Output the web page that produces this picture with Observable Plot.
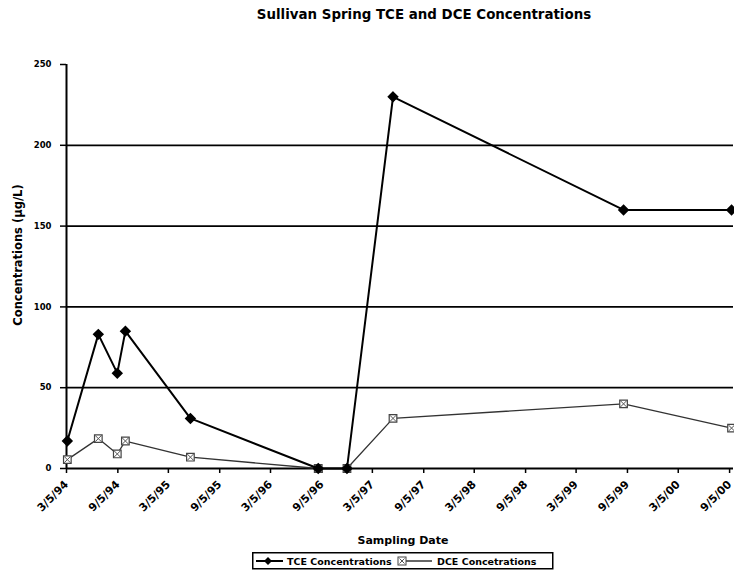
<!DOCTYPE html>
<html>
<head>
<meta charset="utf-8">
<script src="https://cdn.jsdelivr.net/npm/d3@7"></script>
<script src="https://cdn.jsdelivr.net/npm/@observablehq/plot@0.6"></script>
<style>
  html, body { margin: 0; padding: 0; background: white; }
  #wrap { position: relative; width: 734px; height: 578px; overflow: hidden; font-family: "DejaVu Sans", sans-serif; font-weight: bold; color: #000; }
  #title { position: absolute; top: 7px; left: 424px; transform: translateX(-50%); font-size: 13.4px; white-space: nowrap; }
  #ylabel { position: absolute; left: 18px; top: 255px; transform: translate(-50%, -50%) rotate(-90deg); font-size: 11.5px; white-space: nowrap; }
  #xlabel { position: absolute; left: 403px; top: 540px; transform: translate(-50%, -50%); font-size: 11px; white-space: nowrap; }
  #chart { position: absolute; top: 0; left: 0; }
  #legend { position: absolute; left: 252px; top: 552px; }
</style>
</head>
<body>
<div id="wrap">
  <div id="chart"></div>
  <div id="title">Sullivan Spring TCE and DCE Concentrations</div>
  <div id="ylabel">Concentrations (µg/L)</div>
  <div id="xlabel">Sampling Date</div>
  <div id="legend"></div>
</div>
<script>
// ---- data ----
const sampleDates = ["1994-03-08","1994-06-27","1994-09-03","1994-10-02","1995-05-23","1996-08-23","1996-12-04","1997-05-18","1999-08-22","2000-09-12"];
const tceValues = [17, 83, 59, 85, 31, 0, 0, 230, 160, 160];
const dceValues = [5.5, 18.5, 9, 17, 7, 0, 0, 31, 40, 25];
const tickDates = ["1994-03-05","1994-09-05","1995-03-05","1995-09-05","1996-03-05","1996-09-05","1997-03-05","1997-09-05","1998-03-05","1998-09-05","1999-03-05","1999-09-05","2000-03-05","2000-09-05"];
const tickLabels = ["3/5/94","9/5/94","3/5/95","9/5/95","3/5/96","9/5/96","3/5/97","9/5/97","3/5/98","9/5/98","3/5/99","9/5/99","3/5/00","9/5/00"];
const yTicks = [0, 50, 100, 150, 200, 250];
const gridValues = [50, 100, 150, 200];
const seriesNames = ["TCE Concentrations", "DCE Concetrations"];

// ---- tables ----
const tce = sampleDates.map((d, i) => ({date: new Date(d), value: tceValues[i]}));
const dce = sampleDates.map((d, i) => ({date: new Date(d), value: dceValues[i]}));
const ticks = tickDates.map(d => new Date(d));
const labelMap = new Map(ticks.map((d, i) => [+d, tickLabels[i]]));
const xStart = new Date("1994-03-05");
const xEnd = new Date("2000-09-19");

const chart = Plot.plot({
  width: 734,
  height: 578,
  marginLeft: 66,
  marginRight: 1,
  marginTop: 64,
  marginBottom: 110,
  style: {fontFamily: "DejaVu Sans", fontWeight: "bold", fontSize: "10px", background: "white", color: "black", overflow: "visible"},
  x: {type: "utc", domain: [xStart, xEnd]},
  y: {domain: [0, 250]},
  marks: [
    Plot.ruleY(gridValues, {stroke: "black", strokeWidth: 1.8}),
    Plot.axisY({ticks: yTicks, tickSize: 6, tickPadding: 9, fontSize: 8.5, label: null, stroke: "black", strokeWidth: 1.5}),
    Plot.axisX({ticks: ticks, tickFormat: d => labelMap.get(+d), tickRotate: -45, tickSize: 5, tickPadding: 9, fontSize: 11, label: null, stroke: "black", strokeWidth: 1.5}),
    Plot.ruleX([xStart], {stroke: "black", strokeWidth: 2}),
    Plot.ruleY([0], {stroke: "black", strokeWidth: 2.2}),
    Plot.line(dce, {x: "date", y: "value", stroke: "#333", strokeWidth: 1.3}),
    Plot.dot(dce, {x: "date", y: "value", symbol: "square", r: 4.3, fill: "white", stroke: "#444", strokeWidth: 1.2}),
    Plot.dot(dce, {x: "date", y: "value", symbol: "times", r: 3, stroke: "#555", strokeWidth: 1}),
    Plot.line(tce, {x: "date", y: "value", stroke: "black", strokeWidth: 2}),
    Plot.dot(tce, {x: "date", y: "value", symbol: d3.symbolDiamond2, r: 4.2, fill: "black", stroke: "black"})
  ]
});
document.getElementById("chart").appendChild(chart);

// ---- legend ----
const leg = d3.select("#legend").append("svg").attr("width", 302).attr("height", 18)
  .style("font-family", "DejaVu Sans").style("font-weight", "bold").style("overflow", "visible");
leg.append("rect").attr("x", 0.75).attr("y", 0.75).attr("width", 300).attr("height", 16)
  .attr("fill", "white").attr("stroke", "black").attr("stroke-width", 1.5);
// TCE sample
leg.append("line").attr("x1", 4).attr("x2", 31).attr("y1", 9).attr("y2", 9).attr("stroke", "black").attr("stroke-width", 2);
leg.append("path").attr("d", d3.symbol(d3.symbolDiamond2, 40)()).attr("transform", "translate(16,9)").attr("fill", "black");
leg.append("text").attr("x", 35).attr("y", 12.5).attr("font-size", 9.5).text(seriesNames[0]);
// DCE sample
leg.append("line").attr("x1", 146).attr("x2", 180).attr("y1", 9).attr("y2", 9).attr("stroke", "#333").attr("stroke-width", 1.3);
leg.append("rect").attr("x", 146).attr("y", 5).attr("width", 8).attr("height", 8).attr("fill", "white").attr("stroke", "#444");
leg.append("path").attr("d", "M147.5,6.5L152.5,11.5M152.5,6.5L147.5,11.5").attr("stroke", "#555");
leg.append("text").attr("x", 185).attr("y", 12.5).attr("font-size", 9.5).text(seriesNames[1]);
</script>
</body>
</html>
